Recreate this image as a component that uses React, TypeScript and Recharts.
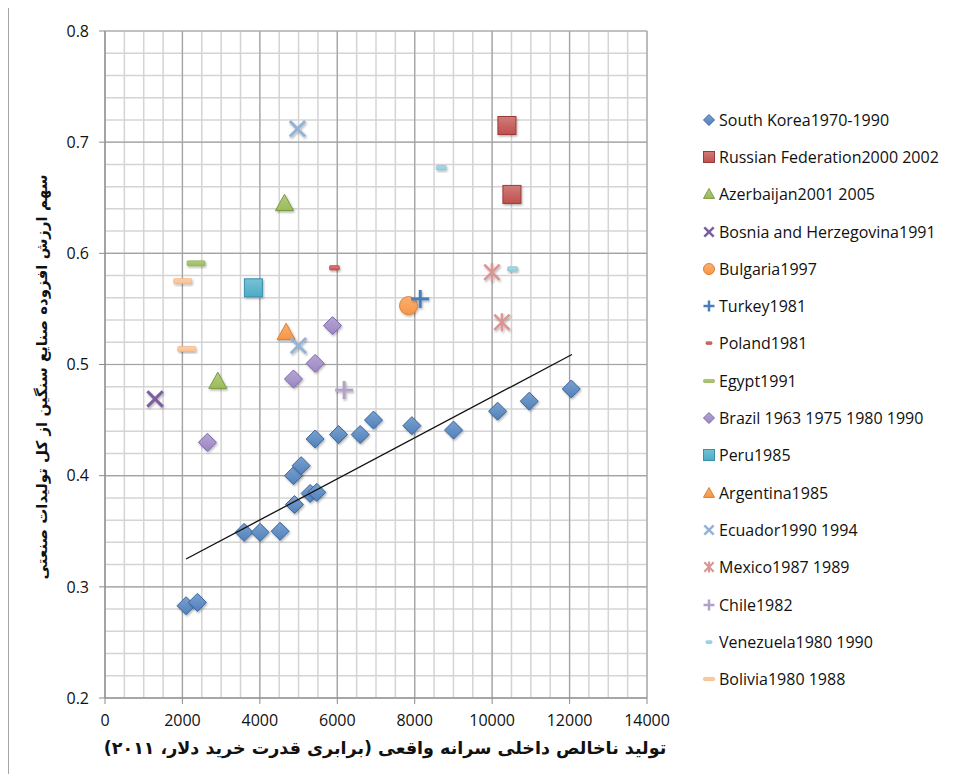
import React from 'react'
import { ScatterChart, Scatter, XAxis, YAxis, CartesianGrid } from 'recharts'

// GDP per capita (PPP, 2011 $) vs. heavy-industry share of manufacturing value added
const KOREA = [
  { x: 2094, y: 0.283 }, { x: 2386, y: 0.286 }, { x: 3593, y: 0.349 }, { x: 4006, y: 0.349 },
  { x: 4523, y: 0.35 }, { x: 4893, y: 0.374 }, { x: 5298, y: 0.384 }, { x: 5470, y: 0.385 },
  { x: 4868, y: 0.4 }, { x: 5066, y: 0.409 }, { x: 5428, y: 0.433 }, { x: 6031, y: 0.437 },
  { x: 6591, y: 0.437 }, { x: 6935, y: 0.45 }, { x: 7926, y: 0.445 }, { x: 9003, y: 0.441 },
  { x: 10140, y: 0.458 }, { x: 10959, y: 0.467 }, { x: 12044, y: 0.478 },
]
const RUSSIA = [{ x: 10382, y: 0.715 }, { x: 10511, y: 0.653 }]
const AZERBAIJAN = [{ x: 4636, y: 0.645 }, { x: 2913, y: 0.485 }]
const BOSNIA = [{ x: 1292, y: 0.469 }]
const BULGARIA = [{ x: 7840, y: 0.553 }]
const TURKEY = [{ x: 8142, y: 0.559 }]
const POLAND = [{ x: 5927, y: 0.587 }]
const EGYPT = [{ x: 2352, y: 0.591 }]
const BRAZIL = [{ x: 2645, y: 0.43 }, { x: 4868, y: 0.487 }, { x: 5428, y: 0.501 }, { x: 5876, y: 0.535 }]
const PERU = [{ x: 3833, y: 0.569 }]
const ARGENTINA = [{ x: 4678, y: 0.529 }]
const ECUADOR = [{ x: 4971, y: 0.712 }, { x: 4997, y: 0.517 }]
const MEXICO = [{ x: 9994, y: 0.583 }, { x: 10253, y: 0.538 }]
const CHILE = [{ x: 6177, y: 0.477 }]
const VENEZUELA = [{ x: 8684, y: 0.677 }, { x: 10528, y: 0.586 }]
const BOLIVIA = [{ x: 2007, y: 0.575 }, { x: 2111, y: 0.514 }]
const TREND = [{ x: 2094, y: 0.325 }, { x: 12062, y: 0.509 }]

const X_DOMAIN: [number, number] = [0, 14000]
const Y_DOMAIN: [number, number] = [0.2, 0.8]
const X_TICKS = [0, 2000, 4000, 6000, 8000, 10000, 12000, 14000]
const Y_TICKS = [0.2, 0.3, 0.4, 0.5, 0.6, 0.7, 0.8]
// minor gridlines: every 500 on x, every 0.02 on y
const X_MINOR = Array.from({ length: 29 }, (_, i) => i * 500)
const Y_MINOR = Array.from({ length: 31 }, (_, i) => +(0.2 + i * 0.02).toFixed(2))

type Kind = 'diamond' | 'square' | 'triangle' | 'x' | 'circle' | 'plus' | 'dash' | 'dashSm' | 'asterisk'

const SERIES: { name: string; data: { x: number; y: number }[]; kind: Kind; color: string; edge: string; id: string }[] = [
  { name: 'South Korea1970-1990', data: KOREA, kind: 'diamond', color: '#4F81BD', edge: '#3A659A', id: 'kor' },
  { name: 'Russian Federation2000 2002', data: RUSSIA, kind: 'square', color: '#C0504D', edge: '#9A3B38', id: 'rus' },
  { name: 'Azerbaijan2001 2005', data: AZERBAIJAN, kind: 'triangle', color: '#9BBB59', edge: '#7D9A43', id: 'aze' },
  { name: 'Bosnia and Herzegovina1991', data: BOSNIA, kind: 'x', color: '#7A5E9E', edge: '#7A5E9E', id: 'bih' },
  { name: 'Bulgaria1997', data: BULGARIA, kind: 'circle', color: '#F79646', edge: '#E07F30', id: 'bgr' },
  { name: 'Turkey1981', data: TURKEY, kind: 'plus', color: '#4A7EBB', edge: '#4A7EBB', id: 'tur' },
  { name: 'Poland1981', data: POLAND, kind: 'dashSm', color: '#D0504D', edge: '#B04340', id: 'pol' },
  { name: 'Egypt1991', data: EGYPT, kind: 'dash', color: '#9BBB59', edge: '#86A64A', id: 'egy' },
  { name: 'Brazil 1963 1975 1980 1990', data: BRAZIL, kind: 'diamond', color: '#9C87C3', edge: '#7E68A8', id: 'bra' },
  { name: 'Peru1985', data: PERU, kind: 'square', color: '#4BACC6', edge: '#3890AA', id: 'per' },
  { name: 'Argentina1985', data: ARGENTINA, kind: 'triangle', color: '#F79646', edge: '#DF7E30', id: 'arg' },
  { name: 'Ecuador1990 1994', data: ECUADOR, kind: 'x', color: '#95B3D7', edge: '#95B3D7', id: 'ecu' },
  { name: 'Mexico1987 1989', data: MEXICO, kind: 'asterisk', color: '#D99694', edge: '#D99694', id: 'mex' },
  { name: 'Chile1982', data: CHILE, kind: 'plus', color: '#B3A2C7', edge: '#B3A2C7', id: 'chl' },
  { name: 'Venezuela1980 1990', data: VENEZUELA, kind: 'dashSm', color: '#93CDDD', edge: '#7FBDCE', id: 'ven' },
  { name: 'Bolivia1980 1988', data: BOLIVIA, kind: 'dash', color: '#FAC090', edge: '#EFAE7A', id: 'bol' },
]

const FONT = '"Open Sans", sans-serif'

function lighten(hex: string, t: number) {
  const n = parseInt(hex.slice(1), 16)
  const ch = (v: number) => Math.round(v + (255 - v) * t)
  return `rgb(${ch(n >> 16)},${ch((n >> 8) & 255)},${ch(n & 255)})`
}

// minor grid positions: use the axis scale when the grid hands one over,
// otherwise map linearly across the plot offset
function minorX({ xAxis, offset }: any) {
  const sc = xAxis?.scale
  if (typeof sc === 'function') return X_MINOR.map((v) => sc(v))
  if (sc && typeof sc.map === 'function') return X_MINOR.map((v) => sc.map(v))
  const [a, b] = X_DOMAIN
  return X_MINOR.map((v) => offset.left + ((v - a) / (b - a)) * offset.width)
}
function minorY({ yAxis, offset }: any) {
  const sc = yAxis?.scale
  if (typeof sc === 'function') return Y_MINOR.map((v) => sc(v))
  if (sc && typeof sc.map === 'function') return Y_MINOR.map((v) => sc.map(v))
  const [a, b] = Y_DOMAIN
  return Y_MINOR.map((v) => offset.top + (1 - (v - a) / (b - a)) * offset.height)
}

function Mark({ kind, color, edge, id, cx, cy, s, shadow }: {
  kind: Kind; color: string; edge: string; id: string; cx: number; cy: number; s: number; shadow?: boolean
}) {
  const fill = `url(#grad-${id})`
  const filter = shadow ? 'url(#mark-shadow)' : undefined
  const k = s * 0.85
  switch (kind) {
    case 'diamond':
      return <path d={`M${cx},${cy - s}L${cx + s},${cy}L${cx},${cy + s}L${cx - s},${cy}Z`} fill={fill} stroke={edge} strokeWidth={1} filter={filter} />
    case 'square':
      return <rect x={cx - s} y={cy - s} width={s * 2} height={s * 2} fill={fill} stroke={edge} strokeWidth={1} filter={filter} />
    case 'triangle':
      return <path d={`M${cx},${cy - s}L${cx + s},${cy + s * 0.8}L${cx - s},${cy + s * 0.8}Z`} fill={fill} stroke={edge} strokeWidth={1} filter={filter} />
    case 'circle':
      return <circle cx={cx} cy={cy} r={s} fill={fill} stroke={edge} strokeWidth={1} filter={filter} />
    case 'x':
      return (
        <g stroke={color} strokeWidth={s > 6 ? 3 : 2.5} filter={filter}>
          <line x1={cx - k} y1={cy - k} x2={cx + k} y2={cy + k} />
          <line x1={cx - k} y1={cy + k} x2={cx + k} y2={cy - k} />
        </g>
      )
    case 'plus':
      return (
        <g stroke={color} strokeWidth={s > 6 ? 3 : 2.5} filter={filter}>
          <line x1={cx - s} y1={cy} x2={cx + s} y2={cy} />
          <line x1={cx} y1={cy - s} x2={cx} y2={cy + s} />
        </g>
      )
    case 'asterisk':
      return (
        <g stroke={color} strokeWidth={s > 6 ? 2.5 : 2.2} filter={filter}>
          <line x1={cx - k} y1={cy - k} x2={cx + k} y2={cy + k} />
          <line x1={cx - k} y1={cy + k} x2={cx + k} y2={cy - k} />
          <line x1={cx} y1={cy - s} x2={cx} y2={cy + s} />
        </g>
      )
    case 'dash':
      return <rect x={cx - s} y={cy - s * 0.28} width={s * 2} height={s * 0.56} rx={1} fill={fill} stroke={edge} strokeWidth={0.6} filter={filter} />
    case 'dashSm':
      return <rect x={cx - s * 0.55} y={cy - s * 0.25} width={s * 1.1} height={s * 0.5} rx={1} fill={fill} stroke={edge} strokeWidth={0.6} filter={filter} />
  }
  return null
}

function Defs() {
  return (
    <svg width={0} height={0} style={{ position: 'absolute' }}>
      <defs>
        {SERIES.map((s) => (
          <linearGradient key={s.id} id={`grad-${s.id}`} x1="0" y1="0" x2="0" y2="1">
            <stop offset="0%" stopColor={lighten(s.color, 0.25)} />
            <stop offset="100%" stopColor={s.color} />
          </linearGradient>
        ))}
        <filter id="mark-shadow" x="-50%" y="-50%" width="200%" height="200%">
          <feDropShadow dx="1" dy="1.5" stdDeviation="1" floodColor="#000" floodOpacity="0.3" />
        </filter>
      </defs>
    </svg>
  )
}

function Legend() {
  return (
    <div style={{ position: 'absolute', left: 693, top: 93, fontFamily: FONT, fontSize: 16, color: '#111' }}>
      {SERIES.map((s) => (
        <div key={s.id} style={{ display: 'flex', alignItems: 'center', height: 37.3 }}>
          <svg width={16} height={16} style={{ marginRight: 2 }}>
            <Mark kind={s.kind} color={s.color} edge={s.edge} id={s.id} cx={8} cy={8} s={5.5} />
          </svg>
          <span style={{ whiteSpace: 'nowrap' }}>{s.name}</span>
        </div>
      ))}
    </div>
  )
}

export default function App() {
  const tick = { fill: '#111', fontSize: 16, fontFamily: FONT }
  return (
    <div style={{ position: 'relative', width: 939, height: 766, overflow: 'hidden', background: '#fff' }}>
      <Defs />
      <div style={{ position: 'absolute', left: 0, top: -1, width: 1200, height: 1200, border: '1.5px solid #A6A6A6' }} />
      <ScatterChart width={939} height={766} margin={{ top: 23, right: 300, bottom: 46, left: 0 }}>
        <CartesianGrid
          verticalCoordinatesGenerator={minorX}
          horizontalCoordinatesGenerator={minorY}
          stroke="#D4D4D4"
          strokeWidth={1.5}
        />
        <CartesianGrid stroke="#A3A3A3" strokeWidth={1.2} />
        <XAxis
          type="number"
          dataKey="x"
          domain={X_DOMAIN}
          ticks={X_TICKS}
          height={30}
          tick={tick}
          tickMargin={11}
          stroke="#8C8C8C"
        />
        <YAxis
          type="number"
          dataKey="y"
          domain={Y_DOMAIN}
          ticks={Y_TICKS}
          width={97}
          tick={tick}
          tickMargin={10}
          tickFormatter={(v: number) => v.toFixed(1)}
          stroke="#8C8C8C"
        />
        {SERIES.map((s) => (
          <Scatter
            key={s.id}
            name={s.name}
            data={s.data}
            isAnimationActive={false}
            shape={(p: any) => (
              <Mark kind={s.kind} color={s.color} edge={s.edge} id={s.id} cx={p.cx} cy={p.cy} s={9} shadow />
            )}
          />
        ))}
        <Scatter
          data={TREND}
          isAnimationActive={false}
          line={{ stroke: '#111', strokeWidth: 1.3 }}
          shape={() => <g />}
          legendType="none"
        />
      </ScatterChart>
      <Legend />
      <div
        style={{
          position: 'absolute', left: 377, top: 740, transform: 'translate(-50%, -50%)',
          fontFamily: '"DejaVu Sans", sans-serif', fontWeight: 'bold', fontSize: 17.5,
          direction: 'rtl', whiteSpace: 'nowrap', color: '#111',
        }}
      >
        تولید ناخالص داخلی سرانه واقعی (برابری قدرت خرید دلار، ۲۰۱۱)
      </div>
      <div
        style={{
          position: 'absolute', left: 34, top: 369, transform: 'translate(-50%, -50%) rotate(-90deg)',
          fontFamily: '"DejaVu Sans", sans-serif', fontWeight: 'bold', fontSize: 15,
          direction: 'rtl', whiteSpace: 'nowrap', color: '#111',
        }}
      >
        سهم ارزش افزوده صنایع سنگین از کل تولیدات صنعتی
      </div>
    </div>
  )
}
